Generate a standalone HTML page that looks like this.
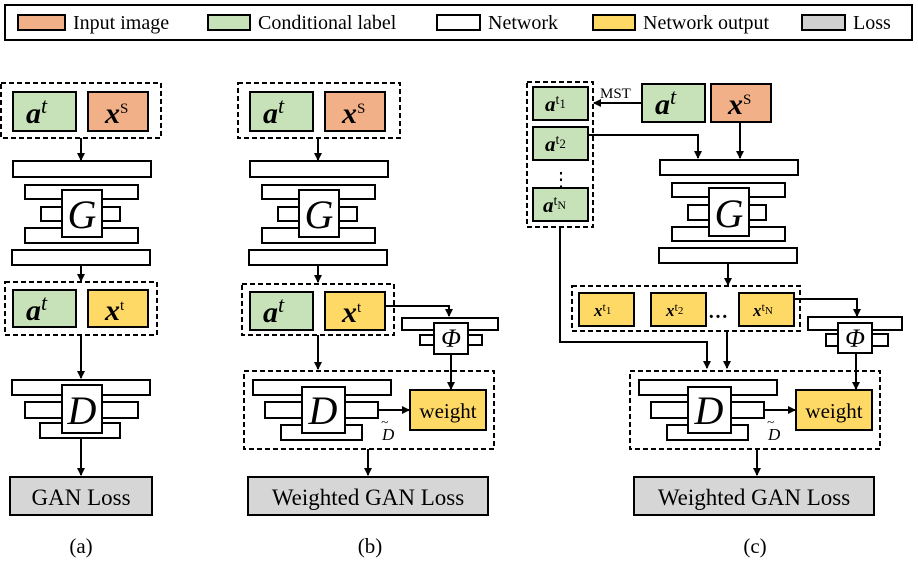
<!DOCTYPE html>
<html><head><meta charset="utf-8"><style>
body{margin:0;background:#fff}
text{font-family:"Liberation Serif",serif;fill:#000}
</style></head><body>
<svg width="918" height="570" viewBox="0 0 918 570" xmlns="http://www.w3.org/2000/svg">
<defs><marker id="ar" markerWidth="8" markerHeight="8" refX="7" refY="4" orient="auto" markerUnits="userSpaceOnUse"><path d="M0,0 L8,4 L0,8 z" fill="#000"/></marker></defs>
<g stroke="#000" stroke-width="2">
<!-- legend -->
<rect x="5" y="5" width="907" height="35" fill="#fff"/>
<rect x="18" y="15" width="47" height="15" fill="#f2b088"/>
<rect x="208" y="15" width="42" height="15" fill="#c7e2b8"/>
<rect x="437" y="15" width="43" height="15" fill="#fff"/>
<rect x="593" y="15" width="42" height="15" fill="#ffd966"/>
<rect x="802" y="15" width="43" height="15" fill="#d0d0d0"/>
</g>
<g font-size="20">
<text x="73" y="29">Input image</text>
<text x="258" y="29">Conditional label</text>
<text x="488" y="29">Network</text>
<text x="643" y="29">Network output</text>
<text x="853" y="29">Loss</text>
</g>

<g stroke="#000" stroke-width="2" fill="none">
<!-- panel a -->
<rect x="1" y="83" width="160" height="55" stroke-dasharray="5,3"/>
<rect x="13" y="92" width="63" height="39" fill="#c7e2b8"/>
<rect x="88" y="92" width="60" height="39" fill="#f2b088"/>
<line x1="81" y1="138" x2="81" y2="160" marker-end="url(#ar)"/>
<rect x="13" y="161" width="138" height="16" fill="#fff"/>
<rect x="25" y="185" width="113" height="14" fill="#fff"/>
<rect x="41" y="207" width="79" height="14" fill="#fff"/>
<rect x="25" y="228" width="113" height="15" fill="#fff"/>
<rect x="62" y="190" width="40" height="47" fill="#fff"/>
<rect x="12" y="250" width="138" height="15" fill="#fff"/>
<line x1="81" y1="265" x2="81" y2="281" marker-end="url(#ar)"/>
<rect x="5" y="282" width="152" height="53" stroke-dasharray="5,3"/>
<rect x="13" y="290" width="63" height="37" fill="#c7e2b8"/>
<rect x="88" y="290" width="60" height="37" fill="#ffd966"/>
<line x1="81" y1="335" x2="81" y2="378" marker-end="url(#ar)"/>
<rect x="12" y="380" width="138" height="15" fill="#fff"/>
<rect x="25" y="402" width="113" height="16" fill="#fff"/>
<rect x="40" y="423" width="80" height="15" fill="#fff"/>
<rect x="62" y="385" width="40" height="48" fill="#fff"/>
<line x1="81" y1="438" x2="81" y2="475" marker-end="url(#ar)"/>
<rect x="10" y="477" width="142" height="38" fill="#d6d6d6"/>

<!-- panel b -->
<rect x="238" y="83" width="162" height="55" stroke-dasharray="5,3"/>
<rect x="250" y="92" width="63" height="39" fill="#c7e2b8"/>
<rect x="325" y="92" width="60" height="39" fill="#f2b088"/>
<line x1="318" y1="138" x2="318" y2="160" marker-end="url(#ar)"/>
<rect x="250" y="161" width="138" height="16" fill="#fff"/>
<rect x="262" y="185" width="113" height="14" fill="#fff"/>
<rect x="278" y="207" width="79" height="14" fill="#fff"/>
<rect x="262" y="228" width="113" height="15" fill="#fff"/>
<rect x="299" y="190" width="40" height="47" fill="#fff"/>
<rect x="249" y="250" width="138" height="15" fill="#fff"/>
<line x1="318" y1="265" x2="318" y2="282" marker-end="url(#ar)"/>
<rect x="242" y="284" width="152" height="51" stroke-dasharray="5,3"/>
<rect x="250" y="292" width="63" height="38" fill="#c7e2b8"/>
<rect x="325" y="292" width="60" height="38" fill="#ffd966"/>
<polyline points="385,306 449,306 449,316" marker-end="url(#ar)"/>
<rect x="402" y="318" width="96" height="12" fill="#fff"/>
<rect x="420" y="335" width="62" height="10" fill="#fff"/>
<rect x="434" y="323" width="34" height="31" fill="#fff"/>
<line x1="318" y1="335" x2="318" y2="369" marker-end="url(#ar)"/>
<line x1="451" y1="354" x2="451" y2="389" marker-end="url(#ar)"/>
<rect x="244" y="371" width="250" height="78" stroke-dasharray="5,3"/>
<rect x="253" y="380" width="138" height="15" fill="#fff"/>
<rect x="265" y="402" width="113" height="16" fill="#fff"/>
<rect x="281" y="425" width="81" height="15" fill="#fff"/>
<rect x="302" y="387" width="43" height="46" fill="#fff"/>
<line x1="378" y1="410" x2="409" y2="410" marker-end="url(#ar)"/>
<rect x="410" y="390" width="76" height="40" fill="#ffd966"/>
<line x1="368" y1="449" x2="368" y2="475" marker-end="url(#ar)"/>
<rect x="248" y="477" width="240" height="38" fill="#d6d6d6"/>

<!-- panel c -->
<rect x="527" y="82" width="66" height="145" stroke-dasharray="5,3"/>
<rect x="533" y="87" width="55" height="33" fill="#c7e2b8"/>
<rect x="533" y="127" width="55" height="33" fill="#c7e2b8"/>
<rect x="533" y="188" width="55" height="33" fill="#c7e2b8"/>
<rect x="642" y="84" width="63" height="38" fill="#c7e2b8"/>
<rect x="711" y="84" width="60" height="38" fill="#f2b088"/>
<line x1="642" y1="103" x2="594" y2="103" marker-end="url(#ar)"/>
<polyline points="588,135 698,135 698,158" marker-end="url(#ar)"/>
<line x1="740" y1="122" x2="740" y2="158" marker-end="url(#ar)"/>
<rect x="660" y="160" width="138" height="15" fill="#fff"/>
<rect x="672" y="183" width="113" height="14" fill="#fff"/>
<rect x="688" y="205" width="78" height="15" fill="#fff"/>
<rect x="672" y="227" width="113" height="14" fill="#fff"/>
<rect x="709" y="188" width="40" height="48" fill="#fff"/>
<rect x="659" y="248" width="138" height="15" fill="#fff"/>
<line x1="728" y1="263" x2="728" y2="285" marker-end="url(#ar)"/>
<rect x="572" y="286" width="228" height="45" stroke-dasharray="5,3"/>
<rect x="579" y="293" width="55" height="33" fill="#ffd966"/>
<rect x="651" y="293" width="55" height="33" fill="#ffd966"/>
<rect x="739" y="293" width="55" height="33" fill="#ffd966"/>
<polyline points="794,299 857,299 857,316" marker-end="url(#ar)"/>
<rect x="808" y="317" width="94" height="13" fill="#fff"/>
<rect x="826" y="334" width="62" height="12" fill="#fff"/>
<rect x="838" y="323" width="34" height="30" fill="#fff"/>
<polyline points="560,227 560,342 707,342 707,368" marker-end="url(#ar)"/>
<line x1="727" y1="331" x2="727" y2="368" marker-end="url(#ar)"/>
<line x1="856" y1="353" x2="856" y2="389" marker-end="url(#ar)"/>
<rect x="630" y="371" width="250" height="78" stroke-dasharray="5,3"/>
<rect x="639" y="380" width="138" height="15" fill="#fff"/>
<rect x="651" y="402" width="113" height="16" fill="#fff"/>
<rect x="667" y="425" width="81" height="15" fill="#fff"/>
<rect x="688" y="387" width="43" height="46" fill="#fff"/>
<line x1="764" y1="410" x2="795" y2="410" marker-end="url(#ar)"/>
<rect x="796" y="390" width="76" height="40" fill="#ffd966"/>
<line x1="757" y1="449" x2="757" y2="475" marker-end="url(#ar)"/>
<rect x="634" y="477" width="240" height="38" fill="#d6d6d6"/>
</g>

<!-- labels -->
<g font-size="30" font-weight="bold" font-style="italic">
<text x="26" y="123">a<tspan font-size="22" font-weight="normal" font-style="italic" dy="-10">t</tspan></text>
<text x="105" y="123">x<tspan font-size="15" font-weight="normal" font-style="normal" dy="-10">S</tspan></text>
<text x="26" y="320">a<tspan font-size="22" font-weight="normal" dy="-10">t</tspan></text>
<text x="105" y="320">x<tspan font-size="15" font-weight="normal" font-style="normal" dy="-10">t</tspan></text>
<text x="263" y="123">a<tspan font-size="22" font-weight="normal" dy="-10">t</tspan></text>
<text x="342" y="123">x<tspan font-size="15" font-weight="normal" font-style="normal" dy="-10">S</tspan></text>
<text x="263" y="322">a<tspan font-size="22" font-weight="normal" dy="-10">t</tspan></text>
<text x="342" y="322">x<tspan font-size="15" font-weight="normal" font-style="normal" dy="-10">t</tspan></text>
<text x="655" y="114">a<tspan font-size="22" font-weight="normal" dy="-10">t</tspan></text>
<text x="728" y="114">x<tspan font-size="15" font-weight="normal" font-style="normal" dy="-10">S</tspan></text>
</g>
<g font-size="21" font-weight="bold" font-style="italic">
<text x="545" y="111">a<tspan font-size="14" font-weight="normal" font-style="normal" dy="-7">t</tspan><tspan font-size="13" font-weight="normal" font-style="normal" dy="4">1</tspan></text>
<text x="545" y="151">a<tspan font-size="14" font-weight="normal" font-style="normal" dy="-7">t</tspan><tspan font-size="13" font-weight="normal" font-style="normal" dy="4">2</tspan></text>
<text x="543" y="212">a<tspan font-size="14" font-weight="normal" font-style="normal" dy="-7">t</tspan><tspan font-size="12" font-weight="normal" font-style="normal" dy="4">N</tspan></text>
<text x="594" y="316" font-size="17">x<tspan font-size="12" font-weight="normal" font-style="normal" dy="-5">t</tspan><tspan font-size="11" font-weight="normal" font-style="normal" dy="3">1</tspan></text>
<text x="666" y="316" font-size="17">x<tspan font-size="12" font-weight="normal" font-style="normal" dy="-5">t</tspan><tspan font-size="11" font-weight="normal" font-style="normal" dy="3">2</tspan></text>
<text x="753" y="316" font-size="17">x<tspan font-size="12" font-weight="normal" font-style="normal" dy="-5">t</tspan><tspan font-size="11" font-weight="normal" font-style="normal" dy="3">N</tspan></text>
</g>
<text x="561" y="186" font-size="20" text-anchor="middle">⋮</text>
<text x="718" y="318" font-size="20" text-anchor="middle" font-weight="bold">…</text>
<text x="600" y="98" font-size="15">MST</text>
<g font-size="40" font-style="italic" text-anchor="middle">
<text x="82" y="228">G</text>
<text x="319" y="228">G</text>
<text x="729" y="227">G</text>
<text x="82" y="424">D</text>
<text x="323" y="424">D</text>
<text x="709" y="424">D</text>
</g>
<g font-size="26" font-style="italic" text-anchor="middle">
<text x="451" y="347">Φ</text>
<text x="855" y="347">Φ</text>
</g>
<g font-size="17" font-style="italic">
<text x="382" y="440">D</text><text x="381" y="426" font-size="13">~</text>
<text x="768" y="440">D</text><text x="767" y="426" font-size="13">~</text>
</g>
<g font-size="21" text-anchor="middle">
<text x="448" y="418">weight</text>
<text x="834" y="418">weight</text>
</g>
<g font-size="23" text-anchor="middle">
<text x="81" y="505">GAN Loss</text>
<text x="368" y="505">Weighted GAN Loss</text>
<text x="754" y="505">Weighted GAN Loss</text>
<text x="81" y="553" font-size="21">(a)</text>
<text x="370" y="553" font-size="21">(b)</text>
<text x="755" y="553" font-size="21">(c)</text>
</g>
</svg>
</body></html>
